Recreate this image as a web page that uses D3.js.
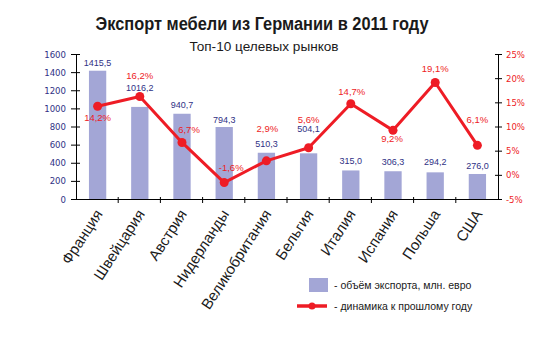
<!DOCTYPE html>
<html><head><meta charset="utf-8">
<script src="https://cdn.jsdelivr.net/npm/d3@7"></script>
<style>
html,body{margin:0;padding:0;background:#fff;}
svg{display:block;font-family:"Liberation Sans",Arial,sans-serif;}
</style></head><body>
<svg id="chart" width="550" height="339"></svg>
<script>
const categories = ["Франция","Швейцария","Австрия","Нидерланды","Великобритания","Бельгия","Италия","Испания","Польша","США"];
const exportValues = [1415.5,1016.2,940.7,794.3,510.3,504.1,315.0,306.3,294.2,276.0];
const growthValues = [14.2,16.2,6.7,-1.6,2.9,5.6,14.7,9.2,19.1,6.1];
const leftTicks = [0,200,400,600,800,1000,1200,1400,1600];
const rightTicks = [-5,0,5,10,15,20,25];
const titleText = "Экспорт мебели из Германии в 2011 году";
const subtitleText = "Топ-10 целевых рынков";
const legendLabels = ["- объём экспорта, млн. евро","- динамика к прошлому году"];

// label placement (layout, not data): offsets in px relative to anchor
const barLabelDy = [-5,-17,-6,-4,-6,-21,-6,-6,-7,-5];
const pctLabelDy = [15,-17.5,-9.5,-11.5,-29,-25,-9,12,-10.5,-22];
const pctLabelDx = [0,0,7,7,1,0,1,-1,0,0];

const BAR = "#a3a6d6", RED = "#ee1c25", NAVY = "#2f3185";
const fmt = v => v.toFixed(1).replace(".", ",");

const svg = d3.select("#chart");
const L = 76, R = 498, T = 54, B = 199;

const x = d3.scaleBand().domain(categories).range([L, R]).paddingInner(0.59).paddingOuter(0.295);
const xb = d3.scaleBand().domain(categories).range([L, R]);
const yL = d3.scaleLinear().domain([0,1600]).range([B, T]);
const yR = d3.scaleLinear().domain([-5,25]).range([B, T]);

// title
svg.append("text").attr("x", 262).attr("y", 29.5).attr("text-anchor","middle")
  .attr("font-size", 17.5).attr("font-weight","bold").attr("fill","#1a1a1a")
  .attr("textLength", 333).attr("lengthAdjust","spacingAndGlyphs").text(titleText);
svg.append("text").attr("x", 264).attr("y", 51).attr("text-anchor","middle")
  .attr("font-size", 13.6).attr("fill","#1a1a1a").text(subtitleText);

// bars
svg.append("g").selectAll("rect").data(exportValues).join("rect")
  .attr("x", (d,i) => x(categories[i]) + 0.5)
  .attr("y", d => yL(d)).attr("width", x.bandwidth()).attr("height", d => B - yL(d))
  .attr("fill", BAR);

// axes
const leftAxis = d3.axisLeft(yL).tickValues(leftTicks).tickSize(0).tickPadding(10).tickFormat(d3.format("d"));
const gL = svg.append("g").attr("transform", `translate(${L},0)`).call(leftAxis);
gL.select(".domain").attr("stroke","#000");
gL.selectAll(".tick text").attr("fill", NAVY).attr("font-size", 9.5)
  .attr("font-family","'Liberation Sans Narrow','Arial Narrow','DejaVu Sans Condensed',sans-serif");
gL.selectAll(".tick").append("line").attr("x1",-5).attr("x2",4).attr("stroke","#000");

const rightAxis = d3.axisRight(yR).tickValues(rightTicks).tickSize(0).tickPadding(8).tickFormat(d => d + "%");
const gR = svg.append("g").attr("transform", `translate(${R},0)`).call(rightAxis);
gR.select(".domain").attr("stroke","#000");
gR.selectAll(".tick text").attr("fill", RED).attr("font-size", 9.5)
  .attr("font-family","'Liberation Sans Narrow','Arial Narrow','DejaVu Sans Condensed',sans-serif");
gR.selectAll(".tick").append("line").attr("x1",-3).attr("x2",4).attr("stroke","#000");

// x axis
const bottomAxis = d3.axisBottom(xb).tickSize(0).tickFormat("");
const gB = svg.append("g").attr("transform", `translate(0,${B})`).call(bottomAxis);
gB.select(".domain").attr("stroke","#000");
const bounds = categories.map(c => xb(c)).concat([R]);
gB.selectAll("line.bnd").data(bounds.slice(1, -1)).join("line").attr("class","bnd")
  .attr("x1", d => d).attr("x2", d => d).attr("y1", -2).attr("y2", 4).attr("stroke","#000");

// category labels
svg.append("g").selectAll("text").data(categories).join("text")
  .attr("transform", d => `translate(${xb(d) + xb.bandwidth()/2 + 6},${B + 15}) rotate(-57)`)
  .attr("text-anchor","end").attr("font-size", 15).attr("fill","#1a1a1a").text(d => d);

// line
const pts = growthValues.map((v,i) => [x(categories[i]) + x.bandwidth()/2 + 0.5, yR(v)]);
svg.append("path").attr("d", d3.line()(pts)).attr("fill","none")
  .attr("stroke", RED).attr("stroke-width", 3).attr("stroke-linejoin","round");
svg.append("g").selectAll("circle").data(pts).join("circle")
  .attr("cx", d => d[0]).attr("cy", d => d[1]).attr("r", 4.5).attr("fill", RED);

// bar labels
svg.append("g").selectAll("text").data(exportValues).join("text")
  .attr("x", (d,i) => x(categories[i]) + x.bandwidth()/2 + 0.5)
  .attr("y", (d,i) => Math.min(yL(d), i===1||i===5 ? yR(growthValues[i]) : yL(d)) + (i===1||i===5 ? (i===1?-5.5:-15.5) : barLabelDy[i]))
  .attr("text-anchor","middle").attr("font-size", 9).attr("fill", NAVY).text(d => fmt(d));

// percent labels
svg.append("g").selectAll("text").data(growthValues).join("text")
  .attr("x", (d,i) => pts[i][0] + pctLabelDx[i])
  .attr("y", (d,i) => pts[i][1] + pctLabelDy[i])
  .attr("text-anchor","middle").attr("font-size", 9.5).attr("fill", RED).text(d => fmt(d) + "%");

// legend
const lg = svg.append("g");
lg.append("rect").attr("x", 309).attr("y", 278).attr("width", 19).attr("height", 14).attr("fill", BAR);
lg.append("text").attr("x", 334).attr("y", 289).attr("font-size", 10.5).attr("fill","#1a1a1a").text(legendLabels[0]);
lg.append("line").attr("x1", 297).attr("x2", 327).attr("y1", 306).attr("y2", 306).attr("stroke", RED).attr("stroke-width", 3.5);
lg.append("circle").attr("cx", 312).attr("cy", 306).attr("r", 3.5).attr("fill", RED);
lg.append("text").attr("x", 334).attr("y", 310).attr("font-size", 10.5).attr("fill","#1a1a1a").text(legendLabels[1]);
</script>
</body></html>
